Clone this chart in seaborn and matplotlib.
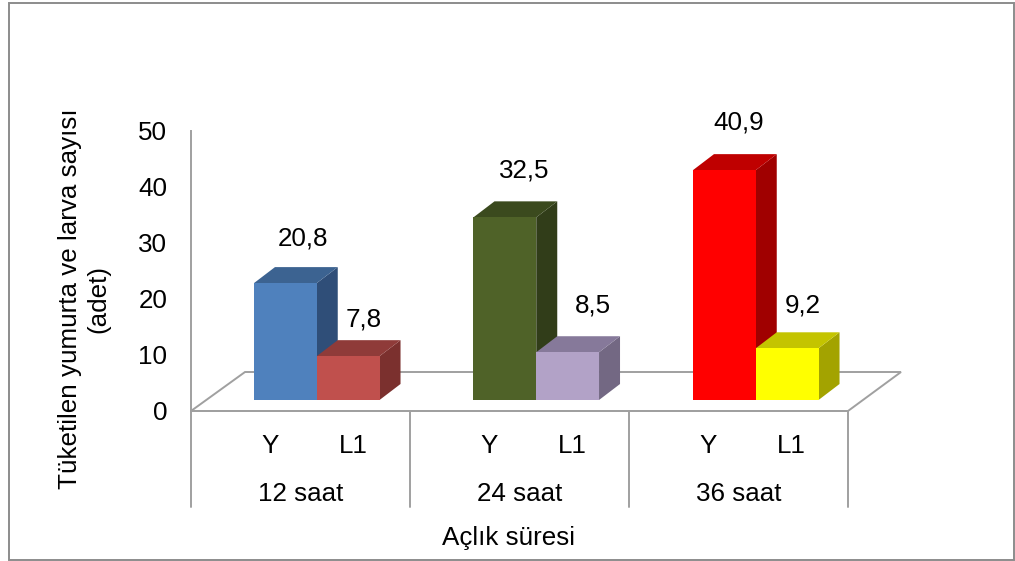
import matplotlib
matplotlib.use('Agg')
import matplotlib.pyplot as plt
import pandas as pd
import seaborn as sns
from matplotlib.patches import Polygon, Rectangle

groups = ['12 saat', '24 saat', '36 saat']
stages = ['Y', 'L1']
y_values = [20.8, 32.5, 40.9]
l1_values = [7.8, 8.5, 9.2]
value_labels = ['20,8', '7,8', '32,5', '8,5', '40,9', '9,2']

front_colors = ['#4F81BD', '#C0504D', '#4F6228', '#B2A2C7', '#FF0000', '#FFFF00']
top_colors = ['#3C6391', '#8F3B39', '#3B4A1E', '#86799A', '#BF0000', '#C4C400']
side_colors = ['#2F4E78', '#7B302E', '#313D19', '#736883', '#A00000', '#A3A300']

# label offsets from the bar top centre, in pixels
label_dx = [18, 16, 19, 25, 14, 16]
label_dy = [45, 37, 47, 47, 48, 43]

W, H = 1015, 561
GRAY = '#A0A0A0'
FS = 18.7


def px_box(left, right, top, bottom):
    return [left / W, 1 - bottom / H, (right - left) / W, (bottom - top) / H]


sns.set_style('white')
plt.rcParams['font.family'] = ['Liberation Sans', 'DejaVu Sans']
plt.rcParams['text.color'] = 'black'

df = pd.DataFrame({
    'sure': [g for g in groups for _ in stages],
    'evre': stages * 3,
    'adet': [v for pair in zip(y_values, l1_values) for v in pair],
})

fig = plt.figure(figsize=(W / 100, H / 100), dpi=100, facecolor='white')
fig.add_artist(Rectangle((9 / W, 1 - 560 / H), 1005 / W, 557 / H, transform=fig.transFigure,
                         fill=False, edgecolor='#8C8C8C', linewidth=1.4))

# axis frame with ticks and labels
ax = fig.add_axes(px_box(191, 848, 131, 411))
ax.set_xlim(-0.5, 2.5)
ax.set_ylim(0, 50)
ax.set_yticks(range(0, 51, 10))
ax.tick_params(axis='y', length=0, pad=17, labelsize=FS, labelcolor='black')
ax.set_xticks([])
for name in ['top', 'right']:
    ax.spines[name].set_visible(False)
for name in ['left', 'bottom']:
    ax.spines[name].set_color(GRAY)
    ax.spines[name].set_linewidth(1.4)
ax.patch.set_alpha(0)

floor = Polygon([(0, 0), (54 / 657, 39 / 280), (1 + 53 / 657, 39 / 280), (1, 0)],
                closed=True, fill=False, edgecolor=GRAY, linewidth=1.4,
                transform=ax.transAxes, clip_on=False)
ax.add_patch(floor)

for i in range(4):
    ax.plot([i / 3, i / 3], [0, -96 / 280], color=GRAY, linewidth=1.4,
            transform=ax.transAxes, clip_on=False)

for i, g in enumerate(groups):
    ax.annotate(stages[0], (i, 0), xytext=(-30 * 0.72, -35 * 0.72), textcoords='offset points',
                ha='center', va='center', fontsize=FS)
    ax.annotate(stages[1], (i, 0), xytext=(53 * 0.72, -35 * 0.72), textcoords='offset points',
                ha='center', va='center', fontsize=FS)
    ax.annotate(g, (i, 0), xytext=(0, -83 * 0.72), textcoords='offset points',
                ha='center', va='center', fontsize=FS)

ax.annotate('Açlık süresi', (1, 0), xytext=(-11 * 0.72, -127 * 0.72), textcoords='offset points',
            ha='center', va='center', fontsize=FS)
fig.text(84 / W, 1 - 299 / H, 'Tüketilen yumurta ve larva sayısı\n(adet)', rotation=90,
         ha='center', va='center', ma='center', fontsize=FS, linespacing=1.2)

# bars sit on the floor, so this axes is shifted inward and upward
bar_ax = fig.add_axes(px_box(207, 865.5, 119, 400))
sns.barplot(data=df, x='sure', y='adet', hue='evre', order=groups, hue_order=stages,
            width=0.572, gap=0, dodge=True, legend=False, errorbar=None,
            edgecolor='none', ax=bar_ax)
bar_ax.set_xlim(-0.5, 2.5)
bar_ax.set_ylim(0, 50)
bar_ax.axis('off')

depth_x = 21 / 219.5
depth_y = 16 / 5.62
bars = sorted(bar_ax.patches, key=lambda p: p.get_x())
for n, bar in enumerate(bars):
    x0, x1 = bar.get_x(), bar.get_x() + bar.get_width()
    h = bar.get_height()
    z = 2 + n
    bar.set_facecolor(front_colors[n])
    bar.set_zorder(z + 0.2)
    bar_ax.add_patch(Polygon([(x1, 0), (x1 + depth_x, depth_y), (x1 + depth_x, h + depth_y), (x1, h)],
                             closed=True, facecolor=side_colors[n], edgecolor='none',
                             clip_on=False, zorder=z))
    bar_ax.add_patch(Polygon([(x0, h), (x0 + depth_x, h + depth_y), (x1 + depth_x, h + depth_y), (x1, h)],
                             closed=True, facecolor=top_colors[n], edgecolor='none',
                             clip_on=False, zorder=z + 0.1))
    bar_ax.annotate(value_labels[n], ((x0 + x1) / 2, h),
                    xytext=(label_dx[n] * 0.72, label_dy[n] * 0.72), textcoords='offset points',
                    ha='center', va='center', fontsize=FS, zorder=20, annotation_clip=False)

fig.savefig('out.png', dpi=100)
